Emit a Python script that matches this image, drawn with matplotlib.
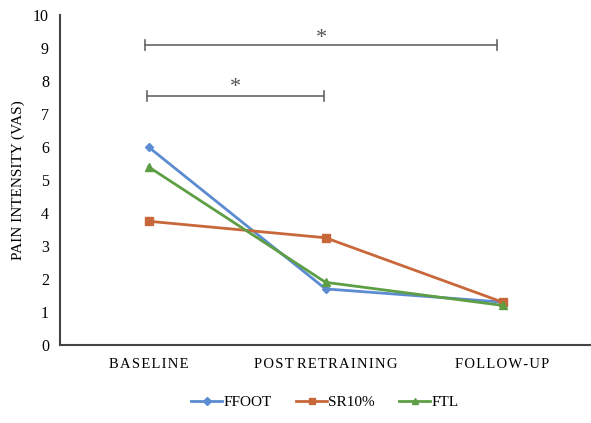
import matplotlib
matplotlib.use('Agg')
import matplotlib.pyplot as plt

categories = ['BASELINE', 'POST RETRAINING', 'FOLLOW-UP']
ffoot = [6.0, 1.7, 1.3]
sr10 = [3.75, 3.25, 1.3]
ftl = [5.4, 1.9, 1.2]
yticks = list(range(0, 11))

plt.rcParams['font.family'] = ['Liberation Serif', 'DejaVu Serif']

def spaced(s):
    # mimic the letter tracking of the original labels
    return ' '.join('\u200a'.join(w) for w in s.split(' '))

fig = plt.figure(figsize=(5.91, 4.23), dpi=100)
ax = fig.add_axes([60 / 591, 78 / 423, 531 / 591, 330 / 423])

x = list(range(len(categories)))
ax.plot(x, ffoot, color='#5B8BD0', marker='D', markersize=4.5, lw=2, label='FFOOT')
ax.plot(x, sr10, color='#C8683A', marker='s', markersize=6, lw=2, label='SR10%')
ax.plot(x, ftl, color='#5E9E45', marker='^', markersize=6, lw=2, label='FTL')

# significance brackets
def bracket(x0, x1, y, ystar):
    ax.plot([x0, x1], [y, y], color='#666666', lw=1.2)
    ax.plot([x0, x0], [y - 0.15, y + 0.15], color='#666666', lw=1.2)
    ax.plot([x1, x1], [y - 0.15, y + 0.15], color='#666666', lw=1.2)
    ax.text((x0 + x1) / 2, ystar, '*', ha='center', va='center', fontsize=16, color='#555555')

bracket(-0.02, 1.97, 9.1, 9.3)
bracket(-0.01, 0.99, 7.55, 7.8)

ax.set_xlim(-0.5, 2.5)
ax.set_ylim(0, 10)
ax.set_yticks(yticks)
ax.set_xticks(x)
ax.set_xticklabels([spaced(c) for c in categories], fontsize=10.5)
ax.tick_params(axis='y', length=0, labelsize=11.5, pad=8)
ax.tick_params(axis='x', length=0, pad=9)
ax.set_ylabel('PAIN INTENSITY (VAS)', fontsize=11, labelpad=6)

for s in ['top', 'right']:
    ax.spines[s].set_visible(False)
for s in ['left', 'bottom']:
    ax.spines[s].set_color('#444444')
    ax.spines[s].set_linewidth(1.5)

fig.legend(loc='lower center', bbox_to_anchor=(0.55, 0.0), ncol=3, frameon=False,
           fontsize=11, handlelength=2.0, columnspacing=1.6, handletextpad=0.1,
           markerscale=0.8)

fig.savefig('out.png', dpi=100)
